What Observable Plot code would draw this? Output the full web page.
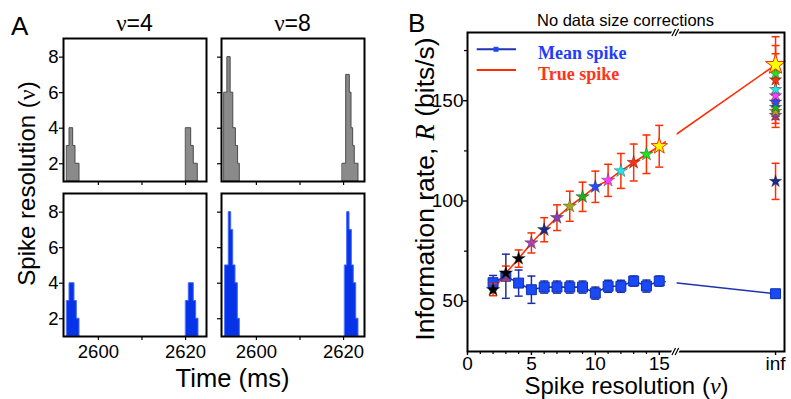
<!DOCTYPE html>
<html><head><meta charset="utf-8">
<script src="https://cdn.jsdelivr.net/npm/d3@7"></script>
<script src="https://cdn.jsdelivr.net/npm/@observablehq/plot@0.6"></script>
<style>
body{margin:0;background:#fff;}
#fig{position:relative;width:791px;height:399px;overflow:hidden;background:#fff;font-family:"Liberation Sans",Arial,sans-serif;}
</style></head><body><div id="fig"></div>
<script>
// ---------------- Panel A data ----------------
const timeDomain = [2592, 2624.8];
const timeTicks = [2600, 2610, 2620];
const timeLabels = [2600, 2620];
const resDomainA = [1, 9.05];
const resTicksA = [2, 4, 6, 8];

// ν=4, true spike (gray, top row): bin edges (ms) and counts
const v4GrayEdgesL = [2592.85, 2593.38, 2594.22, 2594.75, 2595.67];
const v4GrayCountsL = [3, 4, 3, 2];
const v4GrayEdgesR = [2620.14, 2621.29, 2621.88, 2622.8];
const v4GrayCountsR = [4, 3, 2];
// ν=8, true spike (gray, top row)
const v8GrayEdgesL = [2592.7, 2593.35, 2594.1, 2594.7, 2595.3, 2595.8, 2596.2];
const v8GrayCountsL = [6, 8, 6, 4, 3, 2];
const v8GrayEdgesR = [2619.82, 2620.6, 2621.43, 2621.82, 2622.2, 2622.57, 2623.42];
const v8GrayCountsR = [2, 7, 6, 4, 3, 2];
// ν=4, mean spike (blue, bottom row)
const v4BlueEdgesL = [2592.85, 2593.38, 2594.52, 2595.05, 2595.67];
const v4BlueCountsL = [3, 4, 3, 2];
const v4BlueEdgesR = [2620.14, 2620.74, 2621.88, 2622.43, 2622.96];
const v4BlueCountsR = [3, 4, 3, 2];
// ν=8, mean spike (blue, bottom row)
const v8BlueEdgesL = [2592.92, 2593.67, 2594.22, 2594.68, 2595.21, 2595.74, 2596.2];
const v8BlueCountsL = [5, 8, 7, 5, 4, 2];
const v8BlueEdgesR = [2620.37, 2620.83, 2621.36, 2621.89, 2622.34, 2622.9, 2623.42];
const v8BlueCountsR = [5, 8, 7, 5, 4, 2];

// ---------------- Panel B data ----------------
const resolutions = [2, 3, 4, 5, 6, 7, 8, 9, 10, 11, 12, 13, 14, 15];
const meanRate = [59.3, 62.5, 59.1, 55.8, 57.1, 57.1, 57.1, 57.1, 54.1, 57.5, 57.5, 60.1, 57.6, 60.1];
const meanErr = [3.6, 11, 6.5, 6.8, 3, 3, 3, 3, 3, 3, 3, 2.5, 3, 2.5];
const infMeanRate = 53.8;
const infMeanErr = 2;
const trueRate = [55.8, 64.1, 71.3, 79.1, 85.7, 91.7, 97.4, 102.1, 107.1, 110.3, 115.0, 119.2, 123.3, 127.3];
const trueErr = [3, 3.5, 4.3, 5, 6, 6.4, 7.5, 7.3, 7.8, 8, 8.7, 9.2, 9.6, 10.4];
const starColors = ["#000000", "#000000", "#000000", "#b040b0", "#1a2a8c", "#8c3ca8", "#a8a81c", "#1fae1f", "#1f50ff", "#ff3cff", "#22e6e6", "#ff3010", "#22e022", "#ffff00"];
const infTrueRate = [167.9, 163.5, 160.4, 155.6, 152.5, 149.3, 146.7, 144.7, 142.7, 109.8];
const infTrueErr = [14, 14, 13, 10, 8, 7, 6, 6, 6, 9];
const infStarColors = ["#ffff00", "#22e022", "#ff3010", "#22e6e6", "#ff3cff", "#1f50ff", "#1fae1f", "#a8a81c", "#8c3ca8", "#1a2a8c"];
const xTicksB = [0, 5, 10, 15, "inf"];
const yTicksB = [50, 100, 150];
const yMinorB = [75, 125, 175];
const xDomainB = [0, 24.8];
const yDomainB = [25, 184];
const infSlot = 24.1;               // where the "inf" category sits on the broken axis
const axisBreak = {from: 15.55, to: 16.4, mark: 16.3};

// ---------------- helpers ----------------
const fig = document.getElementById("fig");
function place(el, left, top) {
  el.style.position = "absolute";
  el.style.left = left + "px";
  el.style.top = top + "px";
  fig.appendChild(el);
}
const baseStyle = {background: "transparent", overflow: "visible", fontFamily: "'Liberation Sans', Arial, sans-serif", color: "black"};
const xPos = v => v === "inf" ? infSlot : v;

function stepPoints(edges, counts) {
  return edges.map((t, i) => ({t, c: counts[Math.min(i, counts.length - 1)]}));
}
const FA = 143; // frame size of each panel-A cell
function histPanel(clusters, fill, stroke, showX, showY) {
  return Plot.plot({
    width: 178, height: 173, marginLeft: 30, marginRight: 5, marginTop: 5, marginBottom: 25,
    style: {...baseStyle, fontSize: "18px"},
    x: {domain: timeDomain, axis: null},
    y: {domain: resDomainA, axis: null},
    marks: [
      ...clusters.map(([e, c]) => Plot.area(stepPoints(e, c), {x1: "t", y1: () => resDomainA[0], y2: "c", curve: "step-after", fill, stroke, strokeWidth: 1})),
      Plot.frame({stroke: "black", strokeWidth: 2}),
      Plot.tickX(timeTicks, {x: d => d, insetTop: FA, insetBottom: -4, stroke: "black", strokeWidth: 1.2}),
      Plot.tickY(resTicksA, {y: d => d, insetLeft: -4, insetRight: FA, stroke: "black", strokeWidth: 1.2}),
      showY ? Plot.text(resTicksA, {y: d => d, text: d => String(d), frameAnchor: "left", textAnchor: "end", dx: -5, fontSize: 18.5, fill: "black"}) : null,
      showX ? Plot.text(timeLabels, {x: d => d, text: d => String(d), frameAnchor: "bottom", lineAnchor: "top", dy: 8, fontSize: 18.5, fill: "black"}) : null
    ]
  });
}
const gray = ["#8a8a8a", "#4a4a4a"];
const blue = ["#0633e8", "#4066ff"];
place(histPanel([[v4GrayEdgesL, v4GrayCountsL], [v4GrayEdgesR, v4GrayCountsR]], gray[0], gray[1], false, true), 33, 33);
place(histPanel([[v8GrayEdgesL, v8GrayCountsL], [v8GrayEdgesR, v8GrayCountsR]], gray[0], gray[1], false, false), 191, 33);
place(histPanel([[v4BlueEdgesL, v4BlueCountsL], [v4BlueEdgesR, v4BlueCountsR]], blue[0], blue[1], true, true), 33, 188);
place(histPanel([[v8BlueEdgesL, v8BlueCountsL], [v8BlueEdgesR, v8BlueCountsR]], blue[0], blue[1], true, false), 191, 188);

// ---------------- Panel B ----------------
const meanData = resolutions.map((r, i) => ({x: r, y: meanRate[i], e: meanErr[i]}))
  .concat([{x: xPos("inf"), y: infMeanRate, e: infMeanErr}]);
const trueData = resolutions.map((r, i) => ({x: r, y: trueRate[i], e: trueErr[i], c: starColors[i]}));
const infData = infTrueRate.map((y, i) => ({x: xPos("inf"), y, e: infTrueErr[i], c: infStarColors[i]}));
const trueLine = [...trueData, infData[0]];
const capSymbol = {draw(ctx, size) { const w = Math.sqrt(size); ctx.moveTo(-w / 2, 0); ctx.lineTo(w / 2, 0); }};
const breakSymbol = {draw(ctx, size) {
  const w = Math.sqrt(size);
  ctx.moveTo(-0.55 * w, 0.5 * w); ctx.lineTo(-0.05 * w, -0.5 * w);
  ctx.moveTo(-0.1 * w, 0.5 * w); ctx.lineTo(0.4 * w, -0.5 * w);
}};
const RED = "#ff2d00", DBLUE = "#1c2fa0";

function errorMarks(data, color) {
  return [
    Plot.ruleX(data, {x: "x", y1: d => d.y - d.e, y2: d => d.y + d.e, stroke: color, strokeWidth: 1.5}),
    Plot.dot(data, {x: "x", y: d => d.y + d.e, symbol: capSymbol, r: 4.5, fill: "none", stroke: color, strokeWidth: 1.5}),
    Plot.dot(data, {x: "x", y: d => d.y - d.e, symbol: capSymbol, r: 4.5, fill: "none", stroke: color, strokeWidth: 1.5})
  ];
}
const infRev = infData.slice(1).reverse();
const FBW = 317, FBH = 319; // panel-B frame size

const plotB = Plot.plot({
  width: 391, height: 399, marginLeft: 67, marginRight: 7, marginTop: 32, marginBottom: 48,
  style: {...baseStyle, fontSize: "18px"},
  color: {type: "identity"},
  x: {domain: xDomainB, axis: null},
  y: {domain: yDomainB, axis: null},
  marks: [
    Plot.line(meanData, {x: "x", y: "y", stroke: "#1d33b0", strokeWidth: 1.6}),
    Plot.line(trueLine, {x: "x", y: "y", stroke: RED, strokeWidth: 1.6}),
    Plot.rect([axisBreak], {x1: "from", x2: "to", fill: "white", insetTop: 2, insetBottom: 2}),
    ...errorMarks(meanData, DBLUE),
    Plot.dot(meanData, {x: "x", y: "y", symbol: "square", r: 5.6, fill: "#1a4af5", stroke: "#0d2fb8", strokeWidth: 1}),
    ...errorMarks(trueData, RED),
    ...errorMarks(infData, RED),
    Plot.dot(trueData.slice(0, -1), {x: "x", y: "y", symbol: "star", r: 4.2, fill: "c", stroke: "#222", strokeOpacity: 0.6, strokeWidth: 0.6}),
    Plot.dot(trueData.slice(-1), {x: "x", y: "y", symbol: "star", r: 5.1, fill: "c", stroke: RED, strokeWidth: 1}),
    Plot.dot(infRev, {x: "x", y: "y", symbol: "star", r: 3.9, fill: "c", stroke: "#222", strokeOpacity: 0.6, strokeWidth: 0.6}),
    Plot.dot(infData.slice(0, 1), {x: "x", y: "y", symbol: "star", r: 6.3, fill: "c", stroke: RED, strokeWidth: 1}),
    Plot.frame({stroke: "black", strokeWidth: 2}),
    // axes
    Plot.tickX(xTicksB.map(xPos), {x: d => d, insetTop: FBH, insetBottom: -4, stroke: "black", strokeWidth: 1.4}),
    Plot.tickX(d3.range(1, 17).filter(v => v % 5 !== 0), {x: d => d, insetTop: FBH, insetBottom: -3, stroke: "black", strokeWidth: 1.2}),
    Plot.text(xTicksB, {x: xPos, text: d => String(d), frameAnchor: "bottom", lineAnchor: "top", dy: 5, fontSize: 19, fill: "black"}),
    Plot.tickY(yTicksB, {y: d => d, insetLeft: -4, insetRight: FBW, stroke: "black", strokeWidth: 1.4}),
    Plot.tickY(yMinorB, {y: d => d, insetLeft: -3, insetRight: FBW, stroke: "black", strokeWidth: 1.2}),
    Plot.text(yTicksB, {y: d => d, text: d => String(d), frameAnchor: "left", textAnchor: "end", dx: -4, fontSize: 19, fill: "black"}),
    Plot.dot(yDomainB, {x: () => axisBreak.mark, y: d => d, symbol: breakSymbol, r: 4, fill: "none", stroke: "white", strokeWidth: 4}),
    Plot.dot(yDomainB, {x: () => axisBreak.mark, y: d => d, symbol: breakSymbol, r: 4, fill: "none", stroke: "black", strokeWidth: 1.2})
  ]
});
place(plotB, 400, 0);

// ---------------- text & legend overlay ----------------
const ov = d3.create("svg").attr("width", 791).attr("height", 399)
  .style("pointer-events", "none")
  .attr("font-family", "'Liberation Sans', Arial, sans-serif");
const serif = "'Liberation Serif', 'Times New Roman', serif";

ov.append("text").attr("x", 11).attr("y", 35).attr("font-size", 26).text("A");
ov.append("text").attr("x", 408).attr("y", 32).attr("font-size", 26).text("B");

const colTitles = [["4", 134.5], ["8", 292.5]];
for (const [n, x] of colTitles) {
  const t = ov.append("text").attr("x", x).attr("y", 31).attr("font-size", 23).attr("text-anchor", "middle");
  t.append("tspan").attr("font-family", serif).text("ν");
  t.append("tspan").text("=" + n);
}
{
  const t = ov.append("text").attr("transform", "translate(35,183.5) rotate(-90)").attr("font-size", 24).attr("text-anchor", "middle");
  t.append("tspan").text("Spike resolution (");
  t.append("tspan").attr("font-family", serif).text("ν");
  t.append("tspan").text(")");
}
ov.append("text").attr("x", 232.5).attr("y", 387).attr("font-size", 25.5).attr("text-anchor", "middle").text("Time (ms)");
ov.append("text").attr("x", 625.5).attr("y", 26).attr("font-size", 16.5).attr("text-anchor", "middle").text("No data size corrections");
{
  const t = ov.append("text").attr("transform", "translate(434,189) rotate(-90)").attr("font-size", 26.5).attr("text-anchor", "middle");
  t.append("tspan").text("Information rate, ");
  t.append("tspan").attr("font-family", serif).attr("font-style", "italic").text("R");
  t.append("tspan").text(" (bits/s)");
}
{
  const t = ov.append("text").attr("x", 626.5).attr("y", 394).attr("font-size", 24).attr("text-anchor", "middle");
  t.append("tspan").text("Spike resolution (");
  t.append("tspan").attr("font-family", serif).attr("font-style", "italic").text("ν");
  t.append("tspan").text(")");
}
// legend
ov.append("line").attr("x1", 476.7).attr("x2", 516).attr("y1", 49.3).attr("y2", 49.3).attr("stroke", "#1d33b0").attr("stroke-width", 2);
ov.append("rect").attr("x", 493.5).attr("y", 46.8).attr("width", 5).attr("height", 5).attr("fill", "#1a4af5");
ov.append("line").attr("x1", 476.7).attr("x2", 516).attr("y1", 70).attr("y2", 70).attr("stroke", RED).attr("stroke-width", 2);
ov.append("text").attr("x", 538).attr("y", 58.5).attr("font-family", serif).attr("font-weight", "bold").attr("font-size", 18).attr("fill", "#1f3cff").text("Mean spike");
ov.append("text").attr("x", 538).attr("y", 79.5).attr("font-family", serif).attr("font-weight", "bold").attr("font-size", 18).attr("fill", "#ff3418").text("True spike");
place(ov.node(), 0, 0);
</script>
</body></html>
